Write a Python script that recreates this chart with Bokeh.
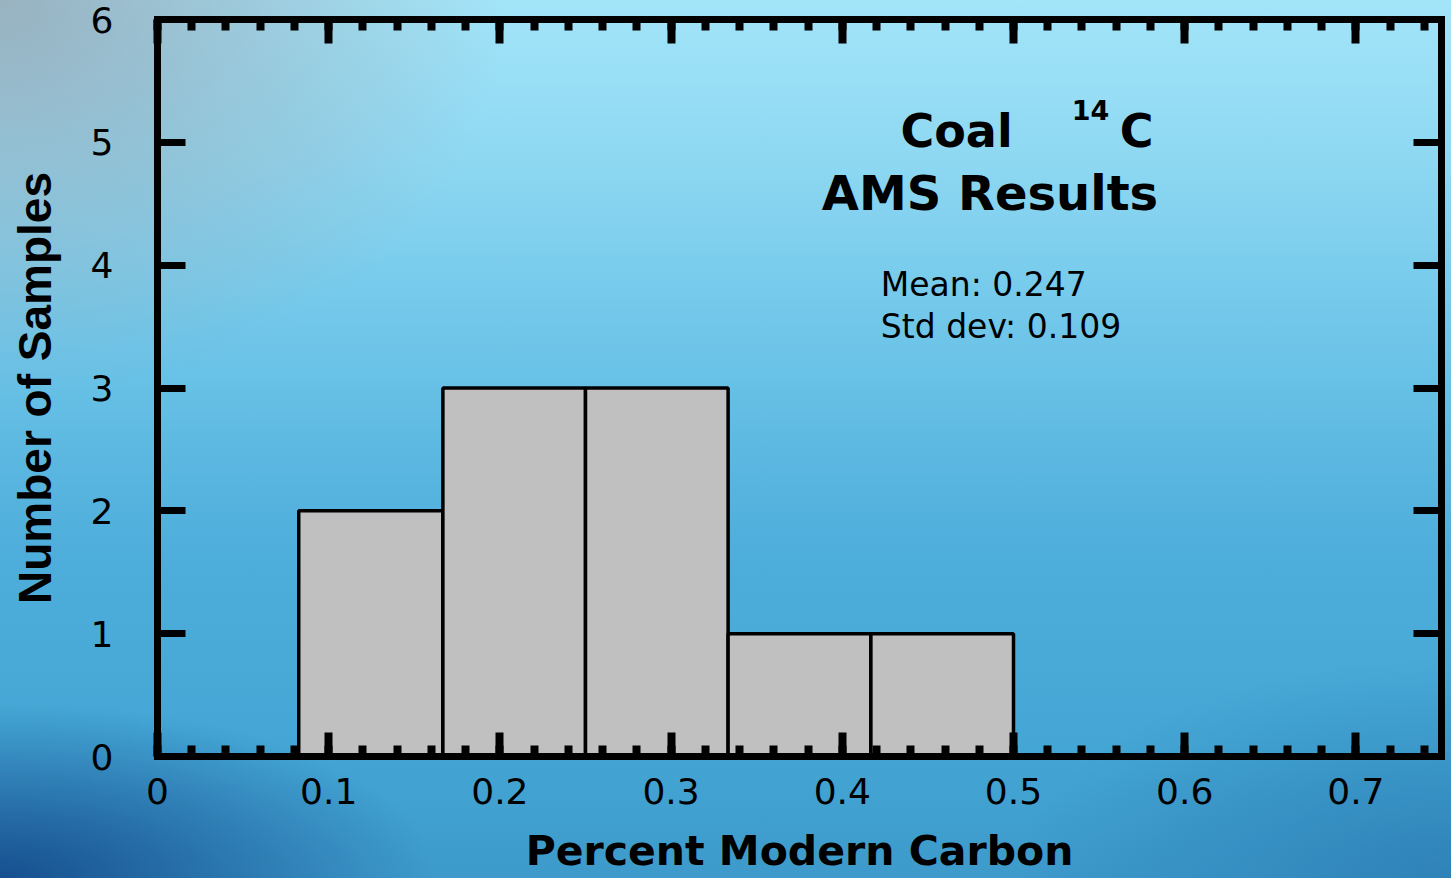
from bokeh.plotting import figure
from bokeh.models import Range1d, LinearAxis, FixedTicker, Label, CustomJSTickFormatter
from bokeh.embed import file_html
from bokeh.resources import INLINE
import numpy as np

# ---- data ----
bin_edges = [0.0825, 0.1667, 0.25, 0.3333, 0.4167, 0.5]
counts = [2, 3, 3, 1, 1]
x_ticks = [0.0, 0.1, 0.2, 0.3, 0.4, 0.5, 0.6, 0.7]
x_tick_labels = ["0", "0.1", "0.2", "0.3", "0.4", "0.5", "0.6", "0.7"]
y_ticks = [0, 1, 2, 3, 4, 5, 6]
mean_pmc = 0.247
std_pmc = 0.109

x_minor = [round(v, 2) for v in np.arange(0.0, 0.76, 0.02)]

p = figure(width=1451, height=878, x_range=Range1d(0, 0.75), y_range=Range1d(0, 6),
           output_backend="svg", toolbar_location=None,
           min_border_left=157, min_border_right=10, min_border_top=19, min_border_bottom=122)

p.styles = {"background-color": "#5cbde3",
            "background-image": "radial-gradient(ellipse 30% 20% at 0% 100%, rgba(20,75,140,0.95) 0%, rgba(20,75,140,0) 100%), "
                                "radial-gradient(ellipse 35% 45% at 0% 0%, rgba(150,165,178,0.8) 0%, rgba(150,165,178,0) 100%), "
                                "radial-gradient(ellipse 30% 25% at 100% 100%, rgba(40,120,175,0.7) 0%, rgba(40,120,175,0) 100%), "
                                "linear-gradient(to bottom, #a3e5f9 0%, #8ed8f2 18%, #6cc4e8 40%, #4faedb 62%, #44a6d5 85%, #3d9acb 100%)"}
p.background_fill_alpha = 0
p.border_fill_alpha = 0
p.outline_line_color = None
p.xgrid.visible = False
p.ygrid.visible = False

p.quad(left=bin_edges[:-1], right=bin_edges[1:], bottom=0, top=counts,
       fill_color="#c0c0c0", line_color="black", line_width=3.5)

xb = p.xaxis[0]
yl = p.yaxis[0]
xt = LinearAxis()
yr = LinearAxis()
p.add_layout(xt, "above")
p.add_layout(yr, "right")

x_overrides = {t: s for t, s in zip(x_ticks, x_tick_labels)}
for ax in (xb, xt):
    ax.ticker = FixedTicker(ticks=x_ticks, minor_ticks=x_minor)
    ax.major_tick_in = 24
    ax.major_tick_out = 0
    ax.major_tick_line_width = 8
    ax.minor_tick_in = 11
    ax.minor_tick_out = 0
    ax.minor_tick_line_width = 8
xb.major_label_overrides = x_overrides
for ax in (yl, yr):
    ax.ticker = FixedTicker(ticks=y_ticks)
    ax.major_tick_in = 28
    ax.major_tick_out = 0
    ax.major_tick_line_width = 7
    ax.minor_tick_line_color = None
for ax in (xb, xt, yl, yr):
    ax.axis_line_width = 7
    ax.axis_line_color = "black"
    ax.axis_line_cap = "square"
    ax.major_tick_line_color = "black"
    ax.major_label_text_font = "DejaVu Sans"
    ax.major_label_text_font_size = "36px"
    ax.major_label_text_color = "black"
for ax in (xt, yr):
    ax.formatter = CustomJSTickFormatter(code="return '';")
    ax.major_label_standoff = 0
    ax.axis_label = None

xb.major_label_standoff = 21
xb.axis_label = "Percent Modern Carbon"
xb.axis_label_text_font = "DejaVu Sans"
xb.axis_label_text_font_style = "bold"
xb.axis_label_text_font_size = "41px"
xb.axis_label_text_color = "black"
xb.axis_label_standoff = 20

yl.major_label_standoff = 44
yl.axis_label = "Number of Samples"
yl.axis_label_text_font = "Liberation Sans"
yl.axis_label_text_font_style = "bold"
yl.axis_label_text_font_size = "46px"
yl.axis_label_text_color = "black"
yl.axis_label_standoff = 27

def add_label(x, y, text, size, bold=True, font="DejaVu Sans"):
    p.add_layout(Label(x=x, y=y, text=text, text_font=font, text_font_size=size,
                       text_font_style="bold" if bold else "normal", text_color="black",
                       text_align="left", text_baseline="alphabetic"))

add_label(0.434, 5.09, "Coal", "46px")
add_label(0.534, 5.26, "14", "27px")
add_label(0.562, 5.09, "C", "46px")
add_label(0.388, 4.59, "AMS Results", "48px")
add_label(0.4225, 3.84, f"Mean: {mean_pmc:.3f}", "33px", bold=False)
add_label(0.4225, 3.50, f"Std dev: {std_pmc:.3f}", "33px", bold=False)

open("out.html", "w").write(file_html(p, INLINE))
